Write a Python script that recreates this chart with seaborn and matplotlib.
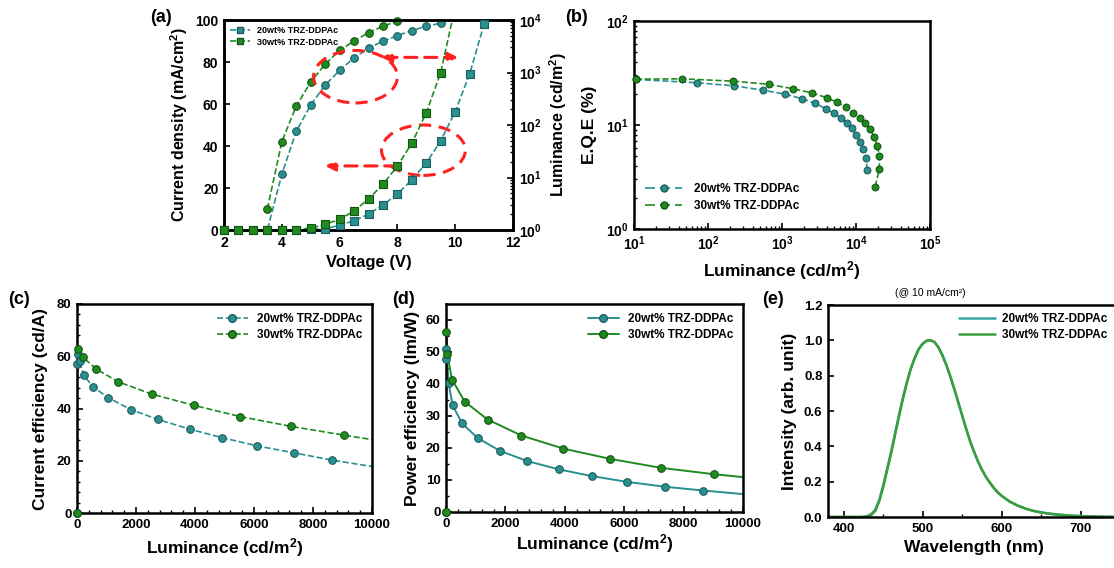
import numpy as np
import pandas as pd
import matplotlib
matplotlib.use("Agg")
import matplotlib.pyplot as plt
import seaborn as sns
from matplotlib.patches import Ellipse
from matplotlib.lines import Line2D
from matplotlib.ticker import AutoMinorLocator, LogLocator, NullFormatter, FormatStrFormatter

# ---------------- data ----------------
labels = ["20wt% TRZ-DDPAc", "30wt% TRZ-DDPAc"]

# (a) J-V-L
volt20 = [2, 2.5, 3, 3.5, 4, 4.5, 5, 5.5, 6, 6.5, 7, 7.5, 8, 8.5, 9, 9.5, 10, 10.5, 11]
j20 = [0, 0, 0, 0, 26.5, 47, 59.5, 69, 76, 82, 86.5, 90, 92.5, 95, 97, 98.5, 102]
lum20 = [1, 1, 1, 1, 1, 1, 1.05, 1.05, 1.24, 1.5, 2.0, 3.0, 4.85, 9, 19, 50, 180, 935, 8400]
volt30 = [2, 2.5, 3, 3.5, 4, 4.5, 5, 5.5, 6, 6.5, 7, 7.5, 8, 8.5, 9, 9.5, 10]
jvolt30 = [3.5, 4, 4.5, 5, 5.5, 6, 6.5, 7, 7.5, 8, 8.5]
j30 = [10, 42, 59, 70.5, 79, 85.5, 90, 94, 97, 99.5, 103]
lum30 = [1, 1, 1, 1, 1, 1, 1.09, 1.28, 1.6, 2.3, 3.9, 7.4, 16.5, 45, 172, 1000, 18000]

# (b) EQE vs luminance
eqe_lum20 = [10.6, 70, 227, 560, 1100, 1860, 2820, 3890, 5040, 6260, 7480, 8780,
             10000, 11300, 12600, 13700, 14200]
eqe20 = [27.4, 25.5, 23.8, 21.6, 19.8, 17.9, 16.1, 14.4, 12.9, 11.7, 10.4, 9.3,
         8.0, 6.9, 5.85, 4.8, 3.7]
eqe_lum30 = [10.6, 45, 220, 660, 1420, 2570, 4020, 5600, 7250, 9200, 11300, 13200,
             15450, 17700, 19400, 20700, 20700, 18100]
eqe30 = [27.6, 27.8, 26.4, 24.6, 22.3, 20.3, 18.3, 16.5, 14.8, 13.1, 11.7, 10.4,
         9.1, 7.6, 6.3, 5.05, 3.76, 2.53]

# (c) current efficiency (last value: end of fitted line, no marker)
ce_lum20 = [0, 2, 45, 90, 226, 542, 1050, 1820, 2745, 3820, 4930, 6100, 7370, 8660, 10000]
ce20 = [0, 57, 61, 58, 52.8, 48.3, 44.2, 39.6, 35.8, 32.1, 28.8, 25.7, 23.0, 20.2, 17.8]
ce_lum30 = [0, 20, 200, 655, 1400, 2540, 3966, 5537, 7243, 9040, 10000]
ce30 = [0, 62.8, 59.6, 55.1, 50.2, 45.5, 41.2, 36.9, 33.2, 29.8, 28.1]

# (d) power efficiency (last value: end of fitted line, no marker)
pe_lum20 = [0, 2, 8, 90, 225, 540, 1067, 1820, 2740, 3810, 4920, 6110, 7370, 8670, 10000]
pe20 = [0, 47.7, 51, 40.2, 33.3, 27.7, 23.1, 19.1, 15.9, 13.3, 11.2, 9.4, 7.9, 6.7, 5.6]
pe_lum30 = [0, 5, 45, 200, 630, 1400, 2540, 3955, 5530, 7240, 9030, 10000]
pe30 = [0, 56.2, 49.3, 41.4, 34.5, 28.9, 23.9, 19.8, 16.6, 13.8, 11.8, 10.9]

# (e) EL spectra
wl = [380, 400, 420, 425, 430, 435, 440, 445, 450, 455, 460, 465, 470, 475, 480, 485,
      490, 495, 500, 505, 510, 515, 520, 525, 530, 535, 540, 545, 550, 555, 560, 565,
      570, 575, 580, 585, 590, 595, 600, 610, 620, 630, 640, 650, 660, 670, 680, 690,
      700, 720, 750]
el20 = [0, 0, 0, 0.002, 0.006, 0.017, 0.042, 0.098, 0.18, 0.275, 0.37, 0.475, 0.578,
        0.676, 0.764, 0.842, 0.903, 0.951, 0.982, 0.998, 1.0, 0.99, 0.96, 0.915, 0.86,
        0.795, 0.725, 0.65, 0.575, 0.5, 0.43, 0.37, 0.315, 0.268, 0.228, 0.195, 0.165,
        0.14, 0.12, 0.088, 0.065, 0.048, 0.035, 0.026, 0.019, 0.014, 0.01, 0.007, 0.005,
        0.002, 0.0]
el30 = [0, 0, 0, 0.0, 0.003, 0.012, 0.035, 0.09, 0.17, 0.265, 0.36, 0.465, 0.57,
        0.67, 0.76, 0.84, 0.9, 0.95, 0.98, 0.998, 1.0, 0.99, 0.96, 0.915, 0.86,
        0.795, 0.725, 0.65, 0.575, 0.5, 0.43, 0.37, 0.315, 0.268, 0.228, 0.195, 0.165,
        0.14, 0.12, 0.088, 0.065, 0.048, 0.035, 0.026, 0.019, 0.014, 0.01, 0.007, 0.005,
        0.002, 0.0]

# ---------------- style ----------------
teal, green = "#2a8f8f", "#1f8b1f"
teal_e, green_e = "#1b5e5e", "#125612"
teal_l, green_l = "#3aa5a5", "#3a9e3a"

sns.set_theme(style="ticks")
plt.rcParams.update({
    "font.family": ["Liberation Sans", "DejaVu Sans"],
    "font.weight": "bold",
    "axes.labelweight": "bold",
    "mathtext.fontset": "custom",
    "mathtext.rm": "Liberation Sans:bold",
    "mathtext.it": "Liberation Sans:bold:italic",
    "mathtext.bf": "Liberation Sans:bold",
    "mathtext.default": "rm",
    "text.color": "black",
    "axes.labelcolor": "black",
})

fig = plt.figure(figsize=(11.14, 5.68), dpi=100)
W, H = 1114, 568


def add_ax(l, r, t, b):
    return fig.add_axes([l / W, 1 - b / H, (r - l) / W, (b - t) / H])


def style(ax, fs=9.5):
    for s in ax.spines.values():
        s.set_linewidth(1.8)
        s.set_color("black")
    ax.tick_params(which="both", direction="in", labelsize=fs, width=1.2,
                   colors="black", pad=4)
    ax.tick_params(which="major", length=4)
    ax.tick_params(which="minor", length=2.2, width=1.0)
    ax.grid(False)


def line(ax, x, y, c, ls="--", lw=1.2):
    sns.lineplot(x=x, y=y, ax=ax, color=c, linestyle=ls, lw=lw,
                 estimator=None, sort=False, legend=False)


def dots(ax, x, y, c, ec, marker="o", s=28):
    sns.scatterplot(x=x, y=y, ax=ax, color=c, edgecolor=ec, linewidth=0.8,
                    marker=marker, s=s, clip_on=False, zorder=4, legend=False)


LABFS = 12.5

# ---------------- (a) ----------------
axa = add_ax(224, 513, 20, 230)
axa2 = axa.twinx()
line(axa, volt20[:len(j20)], j20, teal)
line(axa, jvolt30, j30, green)
jn20 = [(v, j) for v, j in zip(volt20, j20) if j <= 100]
jn30 = [(v, j) for v, j in zip(jvolt30, j30) if j <= 100]
dots(axa, [p[0] for p in jn20], [p[1] for p in jn20], teal, teal_e, s=30)
dots(axa, [p[0] for p in jn30], [p[1] for p in jn30], green, green_e, s=30)
axa.set_xlim(2, 12)
axa.set_ylim(0, 100)
axa.set_xticks([2, 4, 6, 8, 10, 12])
axa.set_yticks([0, 20, 40, 60, 80, 100])
style(axa, 10)
axa.set_xlabel("Voltage (V)", fontsize=LABFS - 0.5)
axa.set_ylabel("Current density (mA/cm$^2$)", fontsize=LABFS - 1, labelpad=4)

axa2.set_yscale("log")
line(axa2, volt20, lum20, teal)
line(axa2, volt30, lum30, green)
ln20 = [(v, l) for v, l in zip(volt20, lum20) if l <= 1e4]
ln30 = [(v, l) for v, l in zip(volt30, lum30) if l <= 1e4]
dots(axa2, [p[0] for p in ln20], [p[1] for p in ln20], teal, teal_e, marker="s", s=30)
dots(axa2, [p[0] for p in ln30], [p[1] for p in ln30], green, green_e, marker="s", s=30)
axa2.set_ylim(1, 1e4)
axa2.yaxis.set_major_locator(LogLocator(base=10, numticks=10))
axa2.yaxis.set_minor_locator(LogLocator(base=10, subs=np.arange(2, 10), numticks=50))
axa2.yaxis.set_minor_formatter(NullFormatter())
style(axa2, 10)
axa2.set_ylabel("Luminance (cd/m$^2$)", fontsize=LABFS - 1, labelpad=4)

# red annotation ellipses / arrows
red = "#ff2020"
for cx, cy, w, h in [(6.55, 73, 2.9, 25), (8.9, 38, 2.9, 24)]:
    axa.add_patch(Ellipse((cx, cy), w, h, fill=False, ec=red, lw=2.2,
                          ls=(0, (4, 2.5)), zorder=5))
axa.annotate("", xy=(10.1, 82.2), xytext=(7.45, 82.2),
             arrowprops=dict(arrowstyle="<|-|>", color=red, lw=2.2,
                             linestyle=(0, (4, 2.5)), mutation_scale=14,
                             shrinkA=0, shrinkB=0), zorder=5)
axa.annotate("", xy=(5.5, 30.5), xytext=(7.98, 30.5),
             arrowprops=dict(arrowstyle="-|>", color=red, lw=2.2,
                             linestyle=(0, (4, 2.5)), mutation_scale=14,
                             shrinkA=0, shrinkB=0), zorder=5)

ha = [Line2D([], [], color=teal, ls="--", lw=1.2, marker="s", ms=5, mfc=teal, mec=teal_e),
      Line2D([], [], color=green, ls="--", lw=1.2, marker="s", ms=5, mfc=green, mec=green_e)]
axa2.legend(ha, labels, loc="upper left", frameon=False, fontsize=6.5,
            handlelength=2.2, borderaxespad=0.3, labelspacing=0.25, handletextpad=0.8)
fig.text(150 / W, 1 - 17 / H, "(a)", fontsize=13, ha="left", va="center")

# ---------------- (b) ----------------
axb = add_ax(634, 930, 21, 229)
axb.set_xscale("log")
axb.set_yscale("log")
line(axb, eqe_lum20, eqe20, teal)
line(axb, eqe_lum30, eqe30, green)
dots(axb, eqe_lum20, eqe20, teal, teal_e, s=24)
dots(axb, eqe_lum30, eqe30, green, green_e, s=24)
axb.set_xlim(10, 1e5)
axb.set_ylim(1, 100)
for a in (axb.xaxis, axb.yaxis):
    a.set_major_locator(LogLocator(base=10, numticks=10))
    a.set_minor_locator(LogLocator(base=10, subs=np.arange(2, 10), numticks=50))
    a.set_minor_formatter(NullFormatter())
style(axb, 10)
axb.set_xlabel("Luminance (cd/m$^2$)", fontsize=LABFS)
axb.set_ylabel("E.Q.E (%)", fontsize=LABFS, labelpad=6)
hb = [Line2D([], [], color=teal, ls=(0, (6, 3)), lw=1.2, marker="o", ms=5, mfc=teal, mec=teal_e),
      Line2D([], [], color=green, ls=(0, (6, 3)), lw=1.2, marker="o", ms=5, mfc=green, mec=green_e)]
axb.legend(hb, labels, loc="lower left", bbox_to_anchor=(0.0, 0.03), frameon=False,
           fontsize=8.5, handlelength=3.2, labelspacing=0.45, handletextpad=1.0)
fig.text(565 / W, 1 - 17 / H, "(b)", fontsize=13, ha="left", va="center")

# ---------------- (c) ----------------
axc = add_ax(77, 372, 304, 513)
line(axc, ce_lum20, ce20, teal)
line(axc, ce_lum30, ce30, green)
dots(axc, ce_lum20[:-1], ce20[:-1], teal, teal_e, s=30)
dots(axc, ce_lum30[:-1], ce30[:-1], green, green_e, s=30)
axc.set_xlim(0, 10000)
axc.set_ylim(0, 80)
axc.set_xticks([0, 2000, 4000, 6000, 8000, 10000])
axc.set_yticks([0, 20, 40, 60, 80])
axc.xaxis.set_minor_locator(AutoMinorLocator(5))
axc.yaxis.set_minor_locator(AutoMinorLocator(5))
style(axc, 9.5)
axc.set_xlabel("Luminance (cd/m$^2$)", fontsize=LABFS)
axc.set_ylabel("Current efficiency (cd/A)", fontsize=LABFS, labelpad=6)
hc = [Line2D([], [], color=teal, ls="--", lw=1.2, marker="o", ms=5.5, mfc=teal, mec=teal_e),
      Line2D([], [], color=green, ls="--", lw=1.2, marker="o", ms=5.5, mfc=green, mec=green_e)]
axc.legend(hc, labels, loc="upper right", frameon=False, fontsize=8.5,
           handlelength=2.6, labelspacing=0.3, handletextpad=0.8, borderaxespad=0.4)
fig.text(8 / W, 1 - 300 / H, "(c)", fontsize=13, ha="left", va="center")

# ---------------- (d) ----------------
axd = add_ax(446, 743, 304, 512)
line(axd, pe_lum20, pe20, teal, ls="-", lw=1.4)
line(axd, pe_lum30, pe30, green, ls="-", lw=1.4)
dots(axd, pe_lum20[:-1], pe20[:-1], teal, teal_e, s=30)
dots(axd, pe_lum30[:-1], pe30[:-1], green, green_e, s=30)
axd.set_xlim(0, 10000)
axd.set_ylim(0, 65)
axd.set_xticks([0, 2000, 4000, 6000, 8000, 10000])
axd.set_yticks([0, 10, 20, 30, 40, 50, 60])
axd.xaxis.set_minor_locator(AutoMinorLocator(5))
axd.yaxis.set_minor_locator(AutoMinorLocator(2))
style(axd, 9.5)
axd.set_xlabel("Luminance (cd/m$^2$)", fontsize=LABFS, labelpad=2)
axd.set_ylabel("Power efficiency (lm/W)", fontsize=LABFS, labelpad=4)
hd = [Line2D([], [], color=teal, ls="-", lw=1.4, marker="o", ms=5.5, mfc=teal, mec=teal_e),
      Line2D([], [], color=green, ls="-", lw=1.4, marker="o", ms=5.5, mfc=green, mec=green_e)]
axd.legend(hd, labels, loc="upper right", frameon=False, fontsize=8.5,
           handlelength=2.6, labelspacing=0.3, handletextpad=0.8, borderaxespad=0.4)
fig.text(392 / W, 1 - 300 / H, "(d)", fontsize=13, ha="left", va="center")

# ---------------- (e) ----------------
axe = add_ax(828, 1120, 305, 517)
line(axe, wl, el20, teal_l, ls="-", lw=1.8)
line(axe, wl, el30, green_l, ls="-", lw=1.8)
axe.set_xlim(380, 750)
axe.set_ylim(0, 1.2)
axe.set_xticks([400, 500, 600, 700])
axe.set_yticks([0, 0.2, 0.4, 0.6, 0.8, 1.0, 1.2])
axe.yaxis.set_major_formatter(FormatStrFormatter("%.1f"))
axe.xaxis.set_minor_locator(AutoMinorLocator(2))
style(axe, 9.5)
axe.set_xlabel("Wavelength (nm)", fontsize=LABFS)
axe.set_ylabel("Intensity (arb. unit)", fontsize=LABFS, labelpad=5)
he = [Line2D([], [], color=teal_l, lw=1.8), Line2D([], [], color=green_l, lw=1.8)]
axe.legend(he, labels, loc="upper right", bbox_to_anchor=(0.985, 1.0), frameon=False,
           fontsize=8.5, handlelength=3.0, labelspacing=0.3, handletextpad=0.6,
           borderaxespad=0.3)
fig.text(762 / W, 1 - 300 / H, "(e)", fontsize=13, ha="left", va="center")
fig.text(930 / W, 1 - 293 / H, "(@ 10 mA/cm²)", fontsize=7.5, fontweight="normal",
         ha="center", va="center")

fig.savefig("out.png", dpi=100)
